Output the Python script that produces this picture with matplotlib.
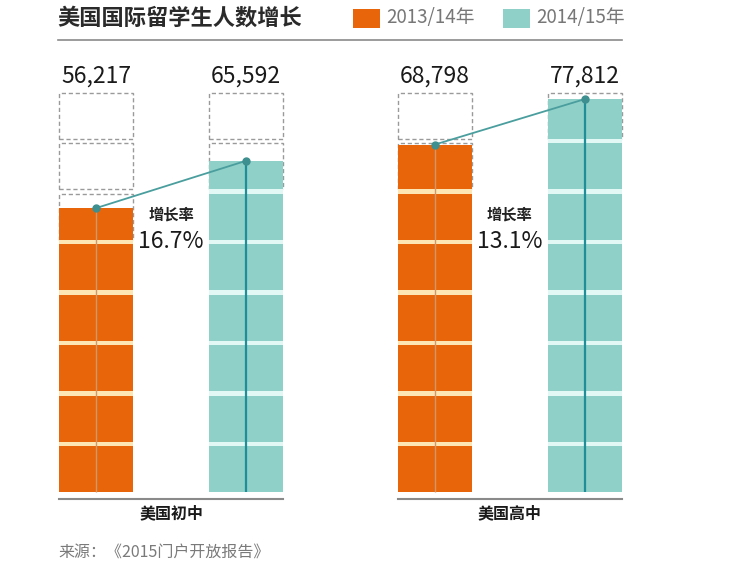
import matplotlib
matplotlib.use("Agg")
import matplotlib.pyplot as plt
from matplotlib.patches import Rectangle

plt.rcParams['font.family'] = ['Noto Sans CJK SC', 'DejaVu Sans']

# 数据
categories = ['美国初中', '美国高中']
years = ['2013/14年', '2014/15年']
students_1314 = [56217, 68798]
students_1415 = [65592, 77812]
title = '美国国际留学生人数增长'
source = '来源：《2015门户开放报告》'

cell_unit = 10000   # 每格代表的人数
n_cells = 8

orange = '#E8650A'
orange_gap = '#FDE6B4'
orange_mid = '#D0976A'
teal = '#8FD0C8'
teal_gap = '#E2F8F5'
teal_mid = '#1F8E98'
dot_line = '#4A9E9E'
gray_line = '#8A8A8A'

W, H = 742, 571
fig = plt.figure(figsize=(W / 100, H / 100), dpi=100)
ax = fig.add_axes([0, 0, 1, 1])
ax.set_axis_off()

# 坐标映射：像素 59 -> -0.5, 像素 622 -> 7.11；底线像素 492 -> 0，每格 50.5 像素
x_scale = (622 - 59) / 7.61
ax.set_xlim(-0.5 - 59 / x_scale, 7.11 + (W - 622) / x_scale)
y_scale = cell_unit / 50.5
ax.set_ylim(-(H - 492) * y_scale, 492 * y_scale)

group_step = 4.58
pair_step = 2.03
bar_w = 1.0
gap = 900


def px(x, y):
    return x / W, 1 - y / H


def draw_bar(xc, value, fill, gap_col, mid_col, mid_lw):
    left = xc - bar_w / 2
    # 背景（格子间的浅色缝）
    ax.add_patch(Rectangle((left, 0), bar_w, value, facecolor=gap_col,
                           edgecolor='none', zorder=1))
    for k in range(n_cells):
        lo = k * cell_unit
        hi = (k + 1) * cell_unit - gap
        if value < hi:
            ax.add_patch(Rectangle((left, lo), bar_w, hi - lo, facecolor='white',
                                   edgecolor='#9A9A9A', linestyle=(0, (3, 2)),
                                   linewidth=1, zorder=0.5))
        top = min(value, hi)
        if top > lo:
            ax.add_patch(Rectangle((left, lo), bar_w, top - lo, facecolor=fill,
                                   edgecolor='none', zorder=2))
    ax.plot([xc, xc], [0, value], color=mid_col, lw=mid_lw, zorder=3,
            solid_capstyle='butt')


for g, cat in enumerate(categories):
    x0 = g * group_step
    x1 = x0 + pair_step
    v0 = students_1314[g]
    v1 = students_1415[g]
    draw_bar(x0, v0, orange, orange_gap, orange_mid, 1.0)
    draw_bar(x1, v1, teal, teal_gap, teal_mid, 1.6)

    # 连线与圆点
    ax.plot([x0, x1], [v0, v1], color=dot_line, lw=1.3, zorder=4)
    ax.plot([x0, x1], [v0, v1], 'o', color='#3E8F8F', markersize=5, zorder=5)

    # 数值
    for xc, v in [(x0, v0), (x1, v1)]:
        ax.text(xc, n_cells * cell_unit + 1000, f'{v:,}', ha='center',
                va='baseline', fontsize=16.5, color='#1A1A1A')

    # 增长率
    xm = (x0 + x1) / 2
    rate = (v1 / v0 - 1) * 100
    ax.text(xm, (492 - 215) * y_scale, '增长率', ha='center', va='center',
            fontsize=11, fontweight='bold', color='#222222')
    ax.text(xm, (492 - 242) * y_scale, f'{rate:.1f}%', ha='center',
            va='center', fontsize=16.5, color='#1A1A1A')

    # 底线和分类名
    ax.plot([x0 - bar_w / 2, x1 + bar_w / 2], [-7 * y_scale, -7 * y_scale],
            color=gray_line, lw=1.5, zorder=3)
    ax.text(xm, -(513 - 492) * y_scale, cat, ha='center', va='center',
            fontsize=11.5, fontweight='bold', color='#1A1A1A')

# 标题
fig.text(*px(57, 18), title, ha='left', va='center', fontsize=16,
         fontweight='bold', color='#2A2A2A')
fig.add_artist(plt.Line2D([58 / W, 622 / W], [1 - 40 / H, 1 - 40 / H],
                          color=gray_line, lw=1.2))

# 图例
for (xs, col, label) in [(353, orange, years[0]), (503, teal, years[1])]:
    fig.add_artist(Rectangle(px(xs, 28), 27 / W, 19 / H, facecolor=col,
                             edgecolor='none', transform=fig.transFigure))
    fig.text(*px(xs + 33, 18), label, ha='left', va='center', fontsize=13.5,
             color='#777777')

# 来源
fig.text(*px(58, 552), source, ha='left', va='center', fontsize=11.5,
         color='#7A7A7A')

fig.savefig('out.png', dpi=100, facecolor='white')
